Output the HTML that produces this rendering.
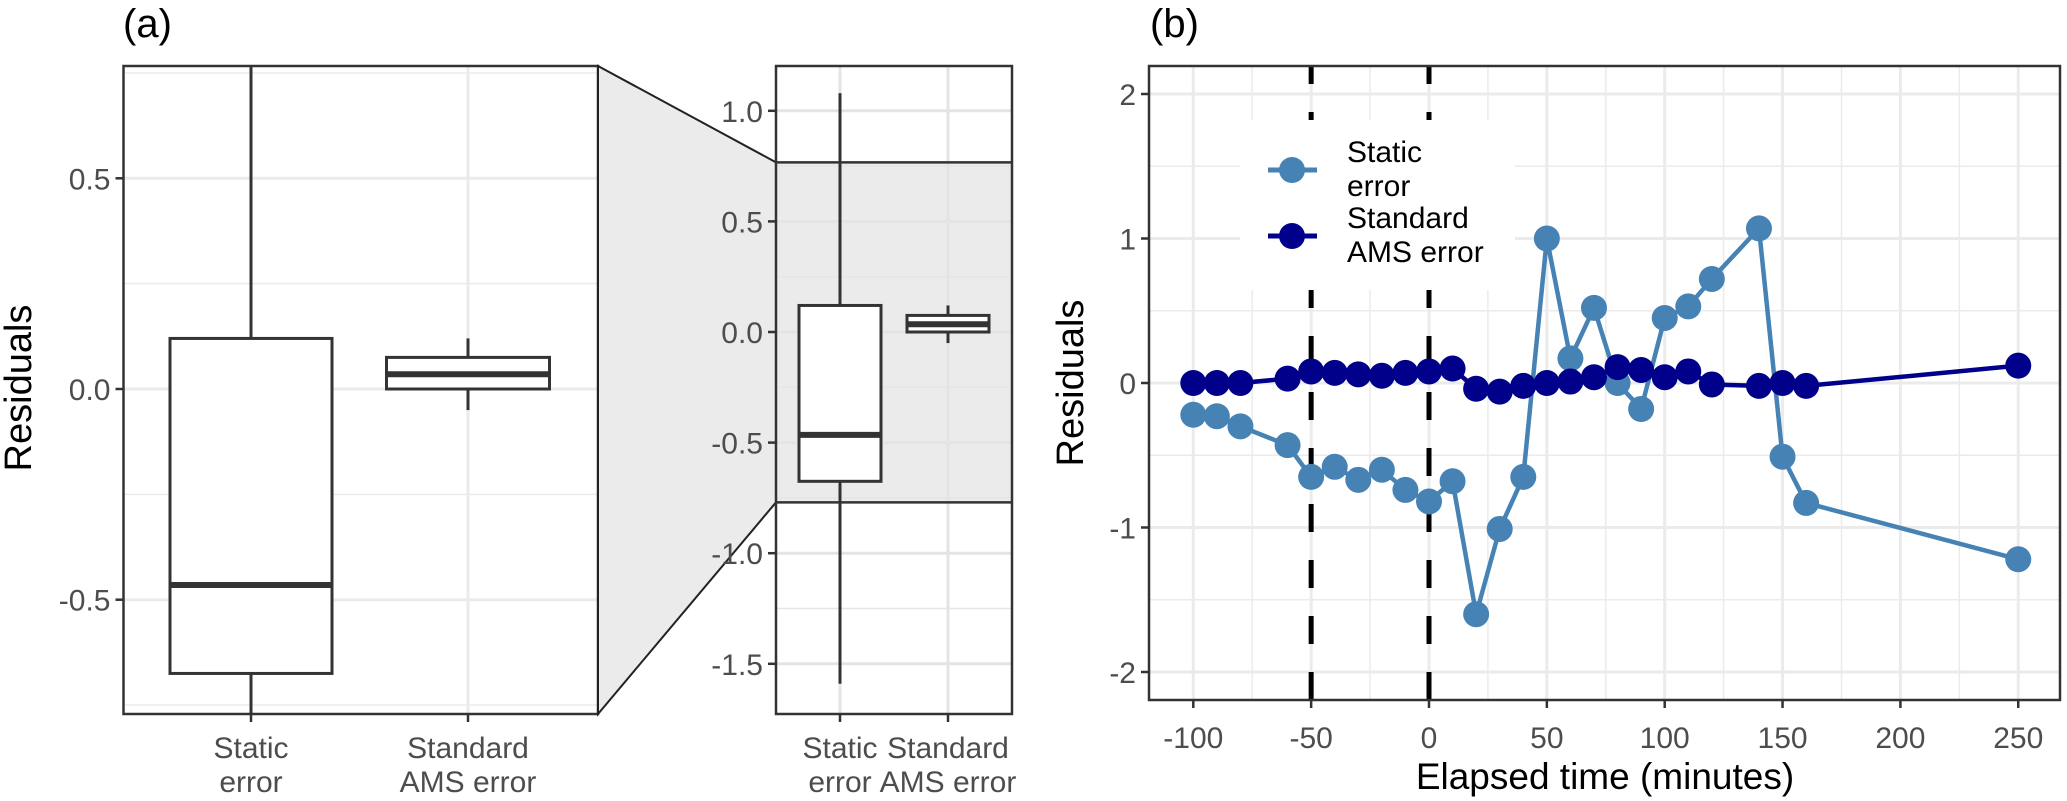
<!DOCTYPE html>
<html><head><meta charset="utf-8"><style>
html,body{margin:0;padding:0;background:#fff;overflow:hidden;}
svg{display:block;font-family:"Liberation Sans",Arial,sans-serif;}
</style></head><body>
<svg id="fig" width="2067" height="801" viewBox="0 0 2067 801" xmlns="http://www.w3.org/2000/svg"></svg>
<script>
// ---- Panel (a) box stats: [whiskerLow, q1, median, q3, whiskerHigh]
const boxCategories = ["Static error", "Standard AMS error"];
const staticStats = [-1.59, -0.675, -0.465, 0.12, 1.08];
const amsStats = [-0.05, 0.0, 0.035, 0.075, 0.12];
const mainTicks = [-0.5, 0.0, 0.5];
const insetTicks = [-1.5, -1.0, -0.5, 0.0, 0.5, 1.0];
// ---- Panel (b) series
const times = [-100,-90,-80,-60,-50,-40,-30,-20,-10,0,10,20,30,40,50,60,70,80,90,100,110,120,140,150,160,250];
const staticResid = [-0.22,-0.23,-0.3,-0.43,-0.65,-0.58,-0.67,-0.6,-0.74,-0.82,-0.68,-1.6,-1.01,-0.65,1.0,0.17,0.52,0.0,-0.18,0.45,0.53,0.72,1.07,-0.51,-0.83,-1.22];
const amsResid = [0,0,0,0.03,0.08,0.07,0.06,0.05,0.07,0.08,0.1,-0.04,-0.06,-0.02,0,0.01,0.04,0.11,0.09,0.04,0.08,-0.01,-0.02,0,-0.02,0.12];
const xTicksB = [-100,-50,0,50,100,150,200,250];
const yTicksB = [-2,-1,0,1,2];
const eventTimes = [-50, 0];

const NS="http://www.w3.org/2000/svg";
const svg=document.getElementById('fig');
function el(tag,attrs,parent,text){const e=document.createElementNS(NS,tag);for(const k in attrs)e.setAttribute(k,attrs[k]);if(text!==undefined)e.textContent=text;(parent||svg).appendChild(e);return e;}
const GRID="#ebebeb", AX="#333333", TXT="#4d4d4d", FS=30;

// ===== Panel (a) main =====
const A={x0:123.5,x1:598,y0:66,y1:714};
const yA=v=>389-v*421.4;
const xA=[251,468];
const gA=el('g',{});


el('rect',{x:A.x0,y:A.y0,width:A.x1-A.x0,height:A.y1-A.y0,fill:'#fff'},gA);
[0.75,0.25,-0.25,-0.75].forEach(v=>el('line',{x1:A.x0,x2:A.x1,y1:yA(v),y2:yA(v),stroke:GRID,'stroke-width':1.5},gA));
mainTicks.forEach(v=>el('line',{x1:A.x0,x2:A.x1,y1:yA(v),y2:yA(v),stroke:GRID,'stroke-width':3},gA));
xA.forEach(x=>el('line',{x1:x,x2:x,y1:A.y0,y2:A.y1,stroke:GRID,'stroke-width':3},gA));

function drawBox(g,cx,hw,st,ys,name){
  const b=el('g',{},g);
  
  
  el('line',{x1:cx,x2:cx,y1:ys(st[4]),y2:ys(st[3]),stroke:AX,'stroke-width':3},b);
  el('line',{x1:cx,x2:cx,y1:ys(st[1]),y2:ys(st[0]),stroke:AX,'stroke-width':3},b);
  el('rect',{x:cx-hw,y:ys(st[3]),width:2*hw,height:ys(st[1])-ys(st[3]),fill:'#fff',stroke:AX,'stroke-width':3},b);
  el('line',{x1:cx-hw,x2:cx+hw,y1:ys(st[2]),y2:ys(st[2]),stroke:AX,'stroke-width':6},b);
}
const cpA=el('clipPath',{id:'clipA'});el('rect',{x:A.x0,y:A.y0,width:A.x1-A.x0,height:A.y1-A.y0},cpA);
const gAb=el('g',{'clip-path':'url(#clipA)'},gA);
drawBox(gAb,xA[0],81,staticStats,yA,'box-static-error');
drawBox(gAb,xA[1],81.5,amsStats,yA,'box-standard-ams-error');
el('rect',{x:A.x0,y:A.y0,width:A.x1-A.x0,height:A.y1-A.y0,fill:'none',stroke:AX,'stroke-width':2.5},gA);
mainTicks.forEach(v=>{
  el('line',{x1:A.x0-8,x2:A.x0,y1:yA(v),y2:yA(v),stroke:AX,'stroke-width':2.5},gA);
  const t=el('text',{x:A.x0-13,y:yA(v)+11,'text-anchor':'end','font-size':FS,fill:TXT},gA,v.toFixed(1));
  
});
xA.forEach((x,i)=>{
  el('line',{x1:x,x2:x,y1:A.y1,y2:A.y1+8,stroke:AX,'stroke-width':2.5},gA);
  const parts=boxCategories[i]==="Static error"?["Static","error"]:["Standard","AMS error"];
  const t=el('text',{x:x,y:758,'text-anchor':'middle','font-size':FS,fill:TXT},gA);
  
  el('tspan',{x:x,dy:0},t,parts[0]);el('tspan',{x:x,dy:34},t,parts[1]);
});
const yta=el('text',{x:0,y:0,transform:'translate(31,388) rotate(-90)','text-anchor':'middle','font-size':38,fill:'#000'},svg,'Residuals');

const ta=el('text',{x:123,y:37,'font-size':40,fill:'#000'},svg,'(a)');


// ===== Inset =====
const I={x0:776,x1:1012,y0:66,y1:714};
const yI=v=>332-v*221.2;
const xI=[840,948];
const conn=el('polygon',{points:`${A.x1},${A.y0} ${I.x0},${yI(0.767)} ${I.x0},${yI(-0.77)} ${A.x1},${A.y1}`,fill:'#ebebeb',stroke:'#222','stroke-width':2});

const gI=el('g',{});

el('rect',{x:I.x0,y:I.y0,width:I.x1-I.x0,height:I.y1-I.y0,fill:'#fff'},gI);
el('rect',{x:I.x0,y:yI(0.767),width:I.x1-I.x0,height:yI(-0.77)-yI(0.767),fill:'#ebebeb'},gI);
[0.75,0.25,-0.25,-0.75,-1.25].forEach(v=>el('line',{x1:I.x0,x2:I.x1,y1:yI(v),y2:yI(v),stroke:'#e6e6e6','stroke-width':1.5},gI));
insetTicks.forEach(v=>el('line',{x1:I.x0,x2:I.x1,y1:yI(v),y2:yI(v),stroke:'#e4e4e4','stroke-width':3},gI));
xI.forEach(x=>el('line',{x1:x,x2:x,y1:I.y0,y2:I.y1,stroke:'#e4e4e4','stroke-width':3},gI));
el('line',{x1:I.x0,x2:I.x1,y1:yI(0.767),y2:yI(0.767),stroke:AX,'stroke-width':2.5},gI);
el('line',{x1:I.x0,x2:I.x1,y1:yI(-0.77),y2:yI(-0.77),stroke:AX,'stroke-width':2.5},gI);
drawBox(gI,xI[0],41,staticStats,yI,'inset-box-static-error');
drawBox(gI,xI[1],41,amsStats,yI,'inset-box-standard-ams-error');
el('rect',{x:I.x0,y:I.y0,width:I.x1-I.x0,height:I.y1-I.y0,fill:'none',stroke:AX,'stroke-width':2.5},gI);
insetTicks.forEach(v=>{
  el('line',{x1:I.x0-8,x2:I.x0,y1:yI(v),y2:yI(v),stroke:AX,'stroke-width':2.5},gI);
  const t=el('text',{x:I.x0-13,y:yI(v)+11,'text-anchor':'end','font-size':FS,fill:TXT},gI,v.toFixed(1));
  
});
xI.forEach((x,i)=>{
  el('line',{x1:x,x2:x,y1:I.y1,y2:I.y1+8,stroke:AX,'stroke-width':2.5},gI);
  const parts=i===0?["Static","error"]:["Standard","AMS error"];
  const t=el('text',{x:x,y:758,'text-anchor':'middle','font-size':FS,fill:TXT},gI);
  
  el('tspan',{x:x,dy:0},t,parts[0]);el('tspan',{x:x,dy:34},t,parts[1]);
});

// ===== Panel (b) =====
const B={x0:1149,x1:2060,y0:66,y1:700};
const xB=v=>1429+v*2.357;
const yB=v=>383-v*144.5;
const gB=el('g',{});

el('rect',{x:B.x0,y:B.y0,width:B.x1-B.x0,height:B.y1-B.y0,fill:'#fff'},gB);
[-1.5,-0.5,0.5,1.5].forEach(v=>el('line',{x1:B.x0,x2:B.x1,y1:yB(v),y2:yB(v),stroke:GRID,'stroke-width':1.5},gB));
[-75,-25,25,75,125,175,225].forEach(v=>el('line',{x1:xB(v),x2:xB(v),y1:B.y0,y2:B.y1,stroke:GRID,'stroke-width':1.5},gB));
yTicksB.forEach(v=>el('line',{x1:B.x0,x2:B.x1,y1:yB(v),y2:yB(v),stroke:GRID,'stroke-width':3},gB));
xTicksB.forEach(v=>el('line',{x1:xB(v),x2:xB(v),y1:B.y0,y2:B.y1,stroke:GRID,'stroke-width':3},gB));
eventTimes.forEach(t=>{
  const l=el('line',{x1:xB(t),x2:xB(t),y1:B.y1,y2:B.y0,stroke:'#000','stroke-width':5,'stroke-dasharray':'28 28'},gB);
  
});
function series(vals,color,name){
  const g=el('g',{},gB);
  
  el('polyline',{points:times.map((t,i)=>xB(t)+','+yB(vals[i])).join(' '),fill:'none',stroke:color,'stroke-width':4.5,'stroke-linejoin':'round'},g);
  times.forEach((t,i)=>{
    const c=el('circle',{cx:xB(t),cy:yB(vals[i]),r:13,fill:color},g);
    
  });
}
series(staticResid,'#4682b4','series-static-error');
series(amsResid,'#00008b','series-standard-ams-error');
const lg=el('g',{});

el('rect',{x:1240,y:120,width:275,height:170,fill:'#fff'},lg);
[[170,'#4682b4',['Static','error'],'legend-entry-static'],[236,'#00008b',['Standard','AMS error'],'legend-entry-ams']].forEach(([y,c,txt,nm])=>{
  const g=el('g',{},lg);
  
  el('line',{x1:1268,x2:1317,y1:y,y2:y,stroke:c,'stroke-width':5},g);
  el('circle',{cx:1292,cy:y,r:13,fill:c},g);
  const t=el('text',{x:1347,y:y-8,'font-size':FS,fill:'#000'},g);
  el('tspan',{x:1347,dy:0},t,txt[0]);el('tspan',{x:1347,dy:34},t,txt[1]);
});
el('rect',{x:B.x0,y:B.y0,width:B.x1-B.x0,height:B.y1-B.y0,fill:'none',stroke:AX,'stroke-width':2.5},gB);
yTicksB.forEach(v=>{
  el('line',{x1:B.x0-8,x2:B.x0,y1:yB(v),y2:yB(v),stroke:AX,'stroke-width':2.5});
  const t=el('text',{x:B.x0-13,y:yB(v)+11,'text-anchor':'end','font-size':FS,fill:TXT},svg,String(v));
  
});
xTicksB.forEach(v=>{
  el('line',{x1:xB(v),x2:xB(v),y1:B.y1,y2:B.y1+8,stroke:AX,'stroke-width':2.5});
  const t=el('text',{x:xB(v),y:748,'text-anchor':'middle','font-size':FS,fill:TXT},svg,String(v));
  
});
const xtb=el('text',{x:1605,y:789,'text-anchor':'middle','font-size':37,fill:'#000'},svg,'Elapsed time (minutes)');

const ytb=el('text',{x:0,y:0,transform:'translate(1083,383) rotate(-90)','text-anchor':'middle','font-size':38,fill:'#000'},svg,'Residuals');

const tb=el('text',{x:1150,y:37,'font-size':40,fill:'#000'},svg,'(b)');

</script>
</body></html>
